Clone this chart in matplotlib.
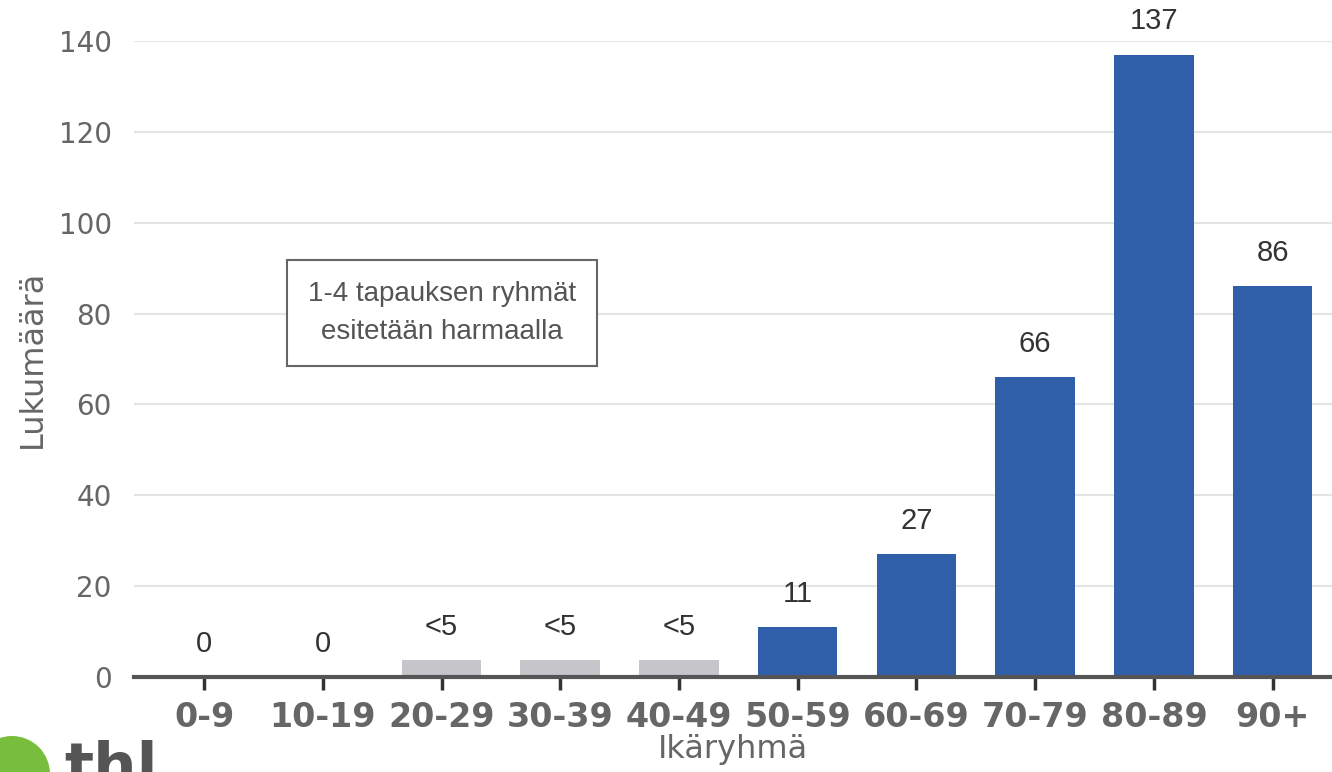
import matplotlib.pyplot as plt
from matplotlib.patches import Ellipse

groups = ['0-9', '10-19', '20-29', '30-39', '40-49', '50-59', '60-69', '70-79', '80-89', '90+']
counts = [0, 0, 3.7, 3.7, 3.7, 11, 27, 66, 137, 86]
labels = ['0', '0', '<5', '<5', '<5', '11', '27', '66', '137', '86']
suppressed = [False, False, True, True, True, False, False, False, False, False]

blue = '#2f5fa9'
grey_bar = '#c6c6ca'
colors = [grey_bar if s else blue for s in suppressed]

fig = plt.figure(figsize=(13.32, 7.72), dpi=100)
ax = fig.add_axes([134 / 1332, 1 - 677 / 772, 1 - 134 / 1332, 636 / 772])

x = range(len(groups))
ax.bar(x, counts, width=0.67, color=colors, zorder=3)

for xi, c, lab in zip(x, counts, labels):
    ax.annotate(lab, (xi, c), xytext=(0, 14), textcoords='offset points',
                ha='center', va='bottom', fontsize=21, color='#333333',
                family='Liberation Sans', clip_on=False)

ax.set_xlim(-0.59, 9.5)
ax.set_ylim(0, 140)
ax.set_yticks(range(0, 141, 20))
ax.grid(axis='y', color='#e4e4e4', linewidth=1.5, zorder=0)
ax.set_axisbelow(True)

for s in ['top', 'right', 'left']:
    ax.spines[s].set_visible(False)
ax.spines['bottom'].set_color('#555555')
ax.spines['bottom'].set_linewidth(3)
ax.spines['bottom'].set_zorder(4)

ax.set_xticks(list(x))
ax.set_xticklabels(groups, fontsize=24, fontweight='bold', color='#666666')
ax.tick_params(axis='x', length=9, width=2.5, color='#333333', pad=8)
ax.tick_params(axis='y', length=0, labelsize=20, labelcolor='#666666', pad=16)

ax.set_xlabel('Ikäryhmä', fontsize=23, color='#666666', labelpad=0)
ax.set_ylabel('Lukumäärä', fontsize=23, color='#666666', labelpad=8)

ax.text(0.257, 0.572, '1-4 tapauksen ryhmät\nesitetään harmaalla',
        transform=ax.transAxes, ha='center', va='center', fontsize=20,
        color='#555555', family='Liberation Sans', linespacing=1.6,
        bbox=dict(boxstyle='square,pad=0.75', facecolor='white',
                  edgecolor='#666666', linewidth=1.5), zorder=5)

# thl logo, partly cut at the bottom edge
fig.patches.append(Ellipse((12 / 1332, 1 - 774 / 772), 76 / 1332, 76 / 772,
                           transform=fig.transFigure, facecolor='#78be3c',
                           edgecolor='none'))
fig.text(64 / 1332, -0.035, 'thl', fontsize=44, fontweight='bold', color='#555555',
         ha='left', va='bottom')

fig.savefig('out.png', dpi=100)
